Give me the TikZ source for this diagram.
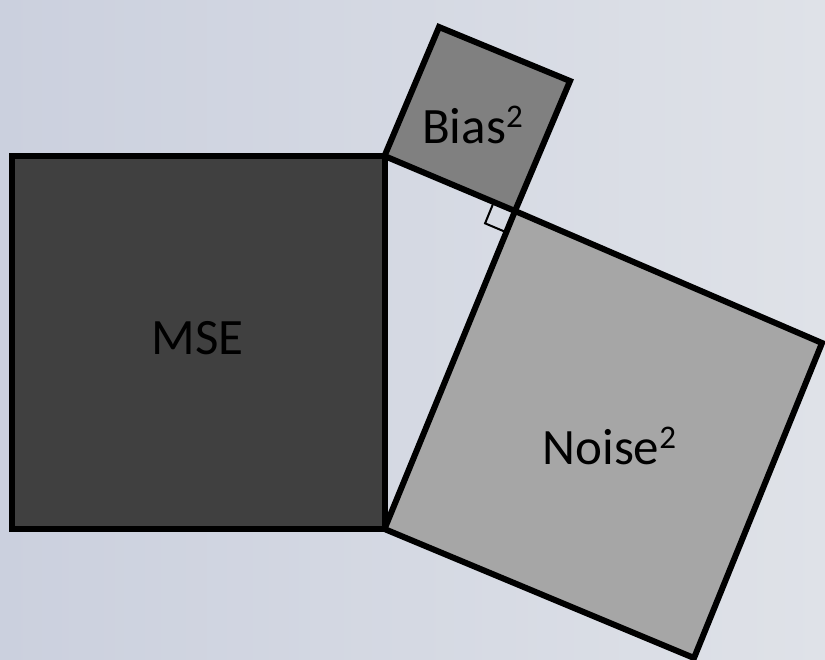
\documentclass[tikz,border=0pt]{standalone}
\usepackage{fontspec}
\setmainfont{Carlito}
\usetikzlibrary{calc}
\definecolor{bgleft}{HTML}{CBD0DE}
\definecolor{bgright}{HTML}{DFE2E8}
\definecolor{msefill}{HTML}{404040}
\definecolor{biasfill}{HTML}{808080}
\definecolor{noisefill}{HTML}{A6A6A6}
\newcommand{\sqtwo}{\raisebox{16pt}{\fontsize{33}{33}\selectfont 2}}
\begin{document}
\begin{tikzpicture}[x=1pt,y=-1pt,
  sq/.style={draw=black,line width=6pt,line join=miter},
  lbl/.style={font=\fontsize{51}{60}\selectfont,text=black,inner sep=0pt,anchor=base},
  marker/.style={draw=black,line width=2pt}]
\useasboundingbox (0,0) rectangle (825,660);
\shade[left color=bgleft,right color=bgright] (0,0) rectangle (825,660);
% vertices
\coordinate (A) at (384.5,156);
\coordinate (B) at (384.5,529);
\coordinate (C) at (515,211);
\coordinate (T) at (439,27);
\coordinate (U) at (570,81);
\coordinate (R) at (822,343);
\coordinate (D) at (694,658);
\coordinate (M1) at (12,156);
\coordinate (M2) at (12,529);
% squares
\path[sq,fill=msefill] (M1) -- (A) -- (B) -- (M2) -- cycle;
\path[sq,fill=biasfill] (A) -- (T) -- (U) -- (C) -- cycle;
\path[sq,fill=noisefill] (C) -- (R) -- (D) -- (B) -- cycle;
% right-angle marker
\coordinate (P1) at ($(C)!23pt!(A)$);
\coordinate (P3) at ($(C)!23pt!(B)$);
\draw[marker] (P1) -- ($(P1)+(P3)-(C)$) -- (P3);
% labels
\node[lbl] (mse) at (197.5,355) {MSE};
\node[lbl] (bias) at (472.5,143.3) {Bias\sqtwo};
\node[lbl] (noise) at (609.3,464.3) {Noise\sqtwo};
\end{tikzpicture}
\end{document}
